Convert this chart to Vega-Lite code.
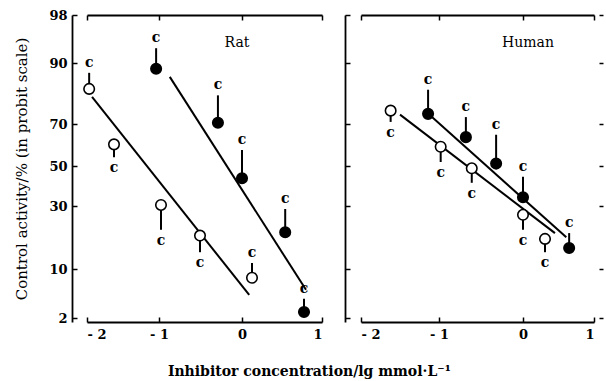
{
  "$schema": "https://vega.github.io/schema/vega-lite/v6.json",
  "padding": {"left": 14, "top": 9, "right": 0, "bottom": 0},
  "background": "white",
  "config": {
    "font": "DejaVu Serif",
    "view": {"stroke": null},
    "axis": {
      "domainColor": "black", "domainWidth": 1.8, "tickColor": "black", "tickWidth": 1.5,
      "labelColor": "black", "titleColor": "black", "labelFont": "DejaVu Serif", "titleFont": "DejaVu Serif",
      "labelFontSize": 13, "labelFontWeight": "bold", "titleFontSize": 15, "titleFontWeight": "normal", "grid": false
    },
    "title": {"font": "DejaVu Serif", "fontSize": 14, "fontWeight": "bold", "color": "black"}
  },
  "datasets": {
    "points": [
      {"panel": "Rat", "type": "filled", "x": -1.04, "probit": 6.21, "err": 6.52},
      {"panel": "Rat", "type": "filled", "x": -0.29, "probit": 5.54, "err": 5.88},
      {"panel": "Rat", "type": "filled", "x": 0.0, "probit": 4.84, "err": 5.2},
      {"panel": "Rat", "type": "filled", "x": 0.54, "probit": 4.16, "err": 4.44},
      {"panel": "Rat", "type": "filled", "x": 0.775, "probit": 3.04, "err": 3.25},
      {"panel": "Rat", "type": "open", "x": -1.97, "probit": 5.96, "err": 6.16},
      {"panel": "Rat", "type": "open", "x": -1.625, "probit": 5.27, "err": 5.11},
      {"panel": "Rat", "type": "open", "x": -0.976, "probit": 4.49, "err": 4.19},
      {"panel": "Rat", "type": "open", "x": -0.506, "probit": 4.12, "err": 3.92},
      {"panel": "Rat", "type": "open", "x": 0.125, "probit": 3.58, "err": 3.79},
      {"panel": "Human", "type": "filled", "x": -1.14, "probit": 5.65, "err": 5.95},
      {"panel": "Human", "type": "filled", "x": -0.68, "probit": 5.36, "err": 5.61},
      {"panel": "Human", "type": "filled", "x": -0.32, "probit": 5.03, "err": 5.39},
      {"panel": "Human", "type": "filled", "x": 0.0, "probit": 4.59, "err": 4.86},
      {"panel": "Human", "type": "filled", "x": 0.65, "probit": 3.97, "err": 4.15},
      {"panel": "Human", "type": "open", "x": -1.62, "probit": 5.69, "err": 5.55},
      {"panel": "Human", "type": "open", "x": -0.98, "probit": 5.24, "err": 5.05},
      {"panel": "Human", "type": "open", "x": -0.61, "probit": 4.97, "err": 4.78},
      {"panel": "Human", "type": "open", "x": 0.0, "probit": 4.37, "err": 4.19},
      {"panel": "Human", "type": "open", "x": 0.31, "probit": 4.08, "err": 3.92}
    ],
    "lines": [
      {"panel": "Rat", "type": "open", "x": -1.93, "probit": 5.86},
      {"panel": "Rat", "type": "open", "x": 0.09, "probit": 3.31},
      {"panel": "Rat", "type": "filled", "x": -0.87, "probit": 6.11},
      {"panel": "Rat", "type": "filled", "x": 0.8, "probit": 3.39},
      {"panel": "Human", "type": "open", "x": -1.5, "probit": 5.64},
      {"panel": "Human", "type": "open", "x": 0.45, "probit": 4.15},
      {"panel": "Human", "type": "filled", "x": -1.09, "probit": 5.61},
      {"panel": "Human", "type": "filled", "x": 0.61, "probit": 4.1}
    ],
    "labels": [
      {"panel": "Rat", "x": -0.06, "probit": 6.6, "label": "Rat"},
      {"panel": "Human", "x": 0.07, "probit": 6.6, "label": "Human"}
    ]
  },
  "title": {"text": "Inhibitor concentration/lg mmol·L⁻¹", "orient": "bottom", "anchor": "middle", "offset": 24},
  "spacing": 21,
  "bounds": "flush",
  "hconcat": [
    {
      "width": 252,
      "height": 307,
      "resolve": {"axis": {"x": "independent", "y": "independent"}},
      "layer": [
        {
          "data": {"name": "lines"},
          "transform": [{"filter": "datum.panel === 'Rat'"}],
          "mark": {"type": "line", "color": "black", "strokeWidth": 2},
          "encoding": {
            "x": {"field": "x", "type": "quantitative", "scale": {"domain": [-2, -1, 0, 1], "range": [15, 87, 170, 250], "zero": false, "nice": false},
              "axis": {"orient": "bottom", "title": null, "values": [-2, -1, 0, 1], "tickSize": -5, "labelPadding": 11, "labelExpr": "datum.value < 0 ? '- ' + abs(datum.value) : '' + datum.value"}},
            "y": {"field": "probit", "type": "quantitative", "scale": {"domain": [2.883, 2.946, 3.718, 4.476, 5, 5.524, 6.282, 7.054], "range": [307, 303, 254, 191, 151, 109, 48, 0], "zero": false, "nice": false},
              "axis": {"orient": "left", "title": "Control activity/% (in probit scale)", "titlePadding": 19, "values": [2.946, 3.718, 4.476, 5, 5.524, 6.282, 7.054], "tickSize": -5, "labelPadding": 10, "labelExpr": "round(cumulativeNormal(datum.value - 5) * 100)"}},
            "detail": {"field": "type"}
          }
        },
        {
          "data": {"name": "points"},
          "transform": [{"filter": "datum.panel === 'Rat'"}],
          "mark": {"type": "rule", "color": "black", "strokeWidth": 2},
          "encoding": {
            "x": {"field": "x", "type": "quantitative", "axis": {"orient": "top", "title": null, "labels": false, "values": [-2, -1, 0, 1], "tickSize": -5}},
            "y": {"field": "probit", "type": "quantitative", "axis": null},
            "y2": {"field": "err"}
          }
        },
        {
          "data": {"name": "points"},
          "transform": [{"filter": "datum.panel === 'Rat'"}],
          "mark": {"type": "point", "shape": "circle", "size": 110, "stroke": "black", "strokeWidth": 1.6, "opacity": 1, "filled": false},
          "encoding": {
            "x": {"field": "x", "type": "quantitative", "axis": null},
            "y": {"field": "probit", "type": "quantitative", "axis": null},
            "fill": {"field": "type", "type": "nominal", "scale": {"domain": ["filled", "open"], "range": ["black", "white"]}, "legend": null}
          }
        },
        {
          "data": {"name": "points"},
          "transform": [{"filter": "datum.panel === 'Rat' && datum.err > datum.probit"}],
          "mark": {"type": "text", "text": "c", "fontSize": 14, "fontWeight": "bold", "baseline": "alphabetic", "dy": -6, "color": "black"},
          "encoding": {
            "x": {"field": "x", "type": "quantitative", "axis": null},
            "y": {"field": "err", "type": "quantitative", "axis": null}
          }
        },
        {
          "data": {"name": "points"},
          "transform": [{"filter": "datum.panel === 'Rat' && datum.err < datum.probit"}],
          "mark": {"type": "text", "text": "c", "fontSize": 14, "fontWeight": "bold", "baseline": "alphabetic", "dy": 15, "color": "black"},
          "encoding": {
            "x": {"field": "x", "type": "quantitative", "axis": null},
            "y": {"field": "err", "type": "quantitative", "axis": null}
          }
        },
        {
          "data": {"name": "labels"},
          "transform": [{"filter": "datum.panel === 'Rat'"}],
          "mark": {"type": "text", "fontSize": 14, "color": "black"},
          "encoding": {
            "x": {"field": "x", "type": "quantitative", "axis": null},
            "y": {"field": "probit", "type": "quantitative", "axis": null},
            "text": {"field": "label"}
          }
        }
      ]
    },
    {
      "width": 254,
      "height": 307,
      "resolve": {"axis": {"x": "independent", "y": "independent"}},
      "layer": [
        {
          "data": {"name": "lines"},
          "transform": [{"filter": "datum.panel === 'Human'"}],
          "mark": {"type": "line", "color": "black", "strokeWidth": 2},
          "encoding": {
            "x": {"field": "x", "type": "quantitative", "scale": {"domain": [-2, -1, 0, 1], "range": [16, 94, 178, 249], "zero": false, "nice": false},
              "axis": {"orient": "bottom", "title": null, "values": [-2, -1, 0, 1], "tickSize": -5, "labelPadding": 11, "labelExpr": "datum.value < 0 ? '- ' + abs(datum.value) : '' + datum.value"}},
            "y": {"field": "probit", "type": "quantitative", "scale": {"domain": [2.883, 2.946, 3.718, 4.476, 5, 5.524, 6.282, 7.054], "range": [307, 303, 254, 191, 151, 109, 48, 0], "zero": false, "nice": false},
              "axis": {"orient": "left", "title": null, "labels": false, "values": [2.946, 3.718, 4.476, 5, 5.524, 6.282, 7.054], "tickSize": -5}},
            "detail": {"field": "type"}
          }
        },
        {
          "data": {"name": "points"},
          "transform": [{"filter": "datum.panel === 'Human'"}],
          "mark": {"type": "rule", "color": "black", "strokeWidth": 2},
          "encoding": {
            "x": {"field": "x", "type": "quantitative", "axis": {"orient": "top", "title": null, "labels": false, "values": [-2, -1, 0, 1], "tickSize": -5}},
            "y": {"field": "probit", "type": "quantitative", "axis": {"orient": "right", "title": null, "labels": false, "domain": false, "values": [2.946, 3.718, 4.476, 5, 5.524, 6.282, 7.054], "tickSize": 4}},
            "y2": {"field": "err"}
          }
        },
        {
          "data": {"name": "points"},
          "transform": [{"filter": "datum.panel === 'Human'"}],
          "mark": {"type": "point", "shape": "circle", "size": 110, "stroke": "black", "strokeWidth": 1.6, "opacity": 1, "filled": false},
          "encoding": {
            "x": {"field": "x", "type": "quantitative", "axis": null},
            "y": {"field": "probit", "type": "quantitative", "axis": null},
            "fill": {"field": "type", "type": "nominal", "scale": {"domain": ["filled", "open"], "range": ["black", "white"]}, "legend": null}
          }
        },
        {
          "data": {"name": "points"},
          "transform": [{"filter": "datum.panel === 'Human' && datum.err > datum.probit"}],
          "mark": {"type": "text", "text": "c", "fontSize": 14, "fontWeight": "bold", "baseline": "alphabetic", "dy": -6, "color": "black"},
          "encoding": {
            "x": {"field": "x", "type": "quantitative", "axis": null},
            "y": {"field": "err", "type": "quantitative", "axis": null}
          }
        },
        {
          "data": {"name": "points"},
          "transform": [{"filter": "datum.panel === 'Human' && datum.err < datum.probit"}],
          "mark": {"type": "text", "text": "c", "fontSize": 14, "fontWeight": "bold", "baseline": "alphabetic", "dy": 15, "color": "black"},
          "encoding": {
            "x": {"field": "x", "type": "quantitative", "axis": null},
            "y": {"field": "err", "type": "quantitative", "axis": null}
          }
        },
        {
          "data": {"name": "labels"},
          "transform": [{"filter": "datum.panel === 'Human'"}],
          "mark": {"type": "text", "fontSize": 14, "color": "black"},
          "encoding": {
            "x": {"field": "x", "type": "quantitative", "axis": null},
            "y": {"field": "probit", "type": "quantitative", "axis": null},
            "text": {"field": "label"}
          }
        }
      ]
    }
  ]
}
